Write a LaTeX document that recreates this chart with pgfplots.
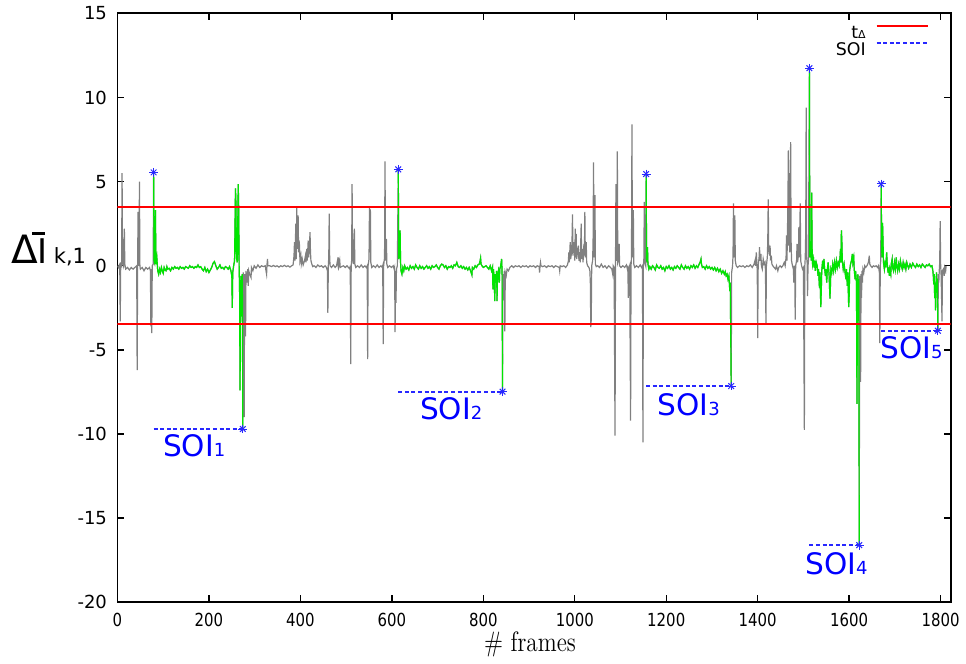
\documentclass[border=0pt]{standalone}
\usepackage{fontspec}
\usepackage{graphicx}
\usepackage{pgfplots}
\usepackage{pgfplotstable}
\pgfplotsset{compat=1.18}
\newfontfamily\dejavu{DejaVu Sans}
\definecolor{sigGray}{RGB}{128,128,128}
\definecolor{sigGreen}{RGB}{0,230,0}
\definecolor{soiBlue}{RGB}{40,40,255}
\newcommand{\xl}[1]{\scalebox{0.83}[1]{#1}}
\newcommand{\legfont}{\dejavu\fontsize{8.7}{8.7}\selectfont}
\pgfplotstableread[row sep=\\]{
f v\\
0 0\\ 2 -0.1\\ 4 0.05\\ 5 -0.1\\ 6 -3.3\\ 7 0.1\\ 9 0\\ 10 5.5\\ 11 0.2\\ 13 0\\ 15 2.2\\ 16 0.1\\ 18 -0.2\\ 22 -0.1\\ 26 -0.25\\ 30 -0.1\\ 34 -0.2\\ 38 -0.1\\
42 0\\ 43 -6.2\\ 44 0.1\\ 45 3.2\\ 46 0.2\\ 47 0\\ 48 5\\ 49 0\\ 50 -0.2\\ 54 -0.1\\ 58 -0.3\\ 62 -0.1\\ 66 -0.2\\ 70 -0.1\\ 72 -0.3\\ 73 -3.6\\ 74 -0.2\\ 75 -4\\ 76 0\\ 78 0.1\\
79 5.55\\ 80 0.3\\ 81 0.2\\ 83 3.3\\ 84 0.1\\ 86 0.5\\ 88 -0.3\\ 90 -0.5\\ 92 -0.2\\ 94 -0.4\\ 96 -0.1\\ 98 -0.3\\ 100 -0.45\\ 102 -0.1\\ 104 -0.25\\ 106 -0.3\\ 108 -0.05\\ 110 -0.2\\
113 -0.15\\ 116 -0.3\\ 119 -0.1\\ 122 -0.2\\ 125 -0.05\\ 128 -0.15\\ 131 -0.1\\ 134 -0.2\\ 137 -0.05\\ 140 -0.15\\ 143 -0.1\\ 146 -0.2\\ 149 -0.05\\ 152 -0.1\\ 155 -0.15\\ 158 0\\
161 -0.1\\ 164 -0.05\\ 167 -0.15\\ 170 -0.05\\ 173 -0.1\\ 176 0.05\\ 179 -0.1\\ 182 -0.05\\ 185 -0.2\\ 188 -0.3\\ 191 -0.1\\ 194 -0.35\\ 197 -0.2\\ 200 -0.4\\ 203 -0.25\\ 206 -0.1\\
209 0.15\\ 212 0.25\\ 215 0\\ 218 -0.2\\ 221 -0.1\\ 224 0.05\\ 227 -0.15\\ 230 -0.1\\ 233 -0.2\\ 236 -0.05\\ 239 -0.1\\ 242 -0.2\\ 245 -0.05\\ 248 -0.3\\ 250 -0.6\\ 251 -2.5\\ 252 -0.4\\
254 0\\ 256 0.3\\ 258 4.6\\ 259 3.8\\ 260 0.5\\ 262 0.2\\ 264 4.85\\ 265 3.5\\ 266 0\\ 267 -1.5\\ 268 -7.4\\ 269 -2\\ 270 -0.6\\ 272 -3\\ 273 -0.5\\ 274 -9.7\\
275 -0.4\\ 276 -1\\ 277 -9\\ 278 -0.5\\ 279 -1.5\\ 280 -4.2\\ 281 -0.3\\ 283 -1\\ 285 -0.2\\ 286 -1.2\\ 287 -0.3\\ 289 -0.5\\ 292 -0.7\\ 293 -0.1\\ 296 -0.3\\ 299 0\\ 303 -0.15\\ 307 0.05\\
311 -0.1\\ 315 0\\ 319 -0.05\\ 323 0\\ 326 -0.5\\ 327 0.1\\ 328 0.4\\ 329 0\\ 333 0\\ 337 -0.05\\ 341 0.02\\ 345 -0.05\\ 349 0\\ 353 -0.08\\ 357 0\\ 361 -0.05\\ 365 0.03\\ 369 -0.05\\
373 0\\ 377 -0.08\\ 381 0\\ 384 0.05\\ 386 0.6\\ 387 1.4\\ 388 0.3\\ 390 2.5\\ 391 0.4\\ 392 3.55\\ 393 1\\ 394 2\\ 395 3\\ 396 0.8\\ 397 1.5\\ 398 1.2\\ 399 0.3\\ 401 0.6\\ 402 0.1\\
404 0.4\\ 406 0.05\\ 409 0.3\\ 411 0.6\\ 412 0.2\\ 414 1\\ 415 0.3\\ 417 1.5\\ 418 0.5\\ 420 1.3\\ 421 2\\ 422 0.8\\ 423 0.3\\ 425 0.1\\ 427 -0.05\\ 430 0\\ 434 -0.1\\ 438 0.05\\
442 -0.05\\ 446 0\\ 450 -0.1\\ 454 0\\ 457 -0.1\\ 459 -0.3\\ 460 -2.8\\ 461 0\\ 462 0.5\\ 463 3.1\\ 464 0.4\\ 465 0\\ 468 -0.1\\ 472 0.05\\ 476 -0.1\\ 479 0\\ 481 0.3\\ 482 0.1\\
483 0.5\\ 484 0\\ 486 0.3\\ 487 -0.1\\ 490 -0.05\\ 494 0\\ 498 -0.1\\ 502 0\\ 505 -0.1\\ 508 -0.2\\ 509 0\\ 510 -5.85\\ 511 0\\ 512 0.3\\ 513 4.85\\ 514 0.5\\ 516 0.1\\ 518 2.2\\
519 0.1\\ 521 -0.1\\ 525 0\\ 529 -0.1\\ 533 0.05\\ 537 -0.1\\ 541 0\\ 544 -0.1\\ 546 0\\ 547 -5.55\\ 548 0\\ 550 0.4\\ 551 3.45\\ 552 0.8\\ 553 3.35\\ 554 0.2\\ 556 -0.1\\ 560 0\\
564 -0.1\\ 568 0.05\\ 572 -0.1\\ 576 0\\ 579 -0.1\\ 580 0\\ 581 -4.65\\ 582 0\\ 584 0.5\\ 585 6.2\\ 586 0.3\\ 588 1.6\\ 589 0.1\\ 591 -0.1\\ 595 0\\ 599 -0.1\\ 603 0\\ 605 -0.2\\
606 -0.1\\ 607 -3.95\\ 608 -0.3\\ 609 -2.2\\ 610 -0.2\\ 612 0\\
614 5.73\\ 615 0.4\\ 616 0.6\\ 617 1\\ 618 2.1\\ 619 0.2\\ 620 -0.3\\ 622 -0.5\\ 624 -0.1\\ 626 -0.3\\ 628 0\\ 631 -0.2\\ 634 -0.1\\ 637 -0.25\\ 640 0\\ 643 -0.15\\ 646 -0.05\\
649 -0.2\\ 652 0.05\\ 655 -0.1\\ 658 -0.2\\ 661 0\\ 664 -0.15\\ 667 -0.05\\ 670 -0.2\\ 673 -0.1\\ 676 0\\ 679 -0.15\\ 682 -0.05\\ 685 -0.2\\ 688 0\\ 691 -0.1\\ 694 -0.05\\ 697 0.05\\
700 -0.1\\ 703 -0.2\\ 706 0\\ 709 0.1\\ 712 0.05\\ 715 -0.1\\ 718 0\\ 721 -0.2\\ 724 -0.05\\ 727 -0.1\\ 730 0\\ 733 -0.15\\ 736 0.05\\ 739 0\\ 742 0.2\\ 745 -0.05\\ 748 -0.1\\
751 0\\ 754 -0.15\\ 757 -0.05\\ 760 -0.2\\ 763 -0.1\\ 766 -0.25\\ 769 -0.1\\ 772 -0.3\\ 775 -0.55\\ 776 -0.1\\ 779 -0.2\\ 782 0\\ 785 -0.1\\ 788 0.05\\ 791 0.1\\ 793 0.3\\ 794 0.45\\
795 0.1\\ 797 0\\ 800 -0.1\\ 803 -0.05\\ 806 0\\ 809 -0.1\\ 812 -0.2\\ 815 0\\ 818 -0.3\\ 820 -0.1\\ 821 -1.4\\ 822 -0.2\\ 824 -0.8\\ 825 -2.1\\ 826 -0.5\\ 828 -1\\ 829 -0.3\\
830 -2.1\\ 831 -0.6\\ 833 -0.3\\ 835 -1\\ 836 -0.2\\ 838 0\\ 840 0.4\\ 841 -0.3\\ 842 -7.48\\
843 -0.5\\ 845 -1\\ 846 -0.3\\ 847 -3.9\\ 848 -0.4\\ 850 -0.6\\ 852 -0.2\\ 855 -0.3\\ 858 -0.1\\ 862 0\\ 866 -0.1\\ 870 0\\ 874 -0.05\\ 878 0\\ 882 -0.1\\ 886 0\\ 890 -0.05\\
894 0\\ 898 -0.1\\ 902 0\\ 906 -0.05\\ 910 0\\ 914 -0.1\\ 918 0\\ 922 -0.05\\ 923 -0.4\\ 924 0\\ 925 0.2\\ 926 0\\ 930 -0.05\\ 934 0\\ 938 -0.1\\ 942 0\\ 946 -0.05\\ 950 0\\
954 -0.1\\ 958 0\\ 962 -0.05\\ 966 -0.1\\ 967 -0.3\\ 968 0\\ 972 -0.05\\ 976 0\\ 980 -0.1\\ 984 0.05\\ 986 0.3\\ 987 0.8\\ 988 0.2\\ 990 1.4\\ 991 0.4\\ 993 0.8\\ 994 1.6\\
995 3.05\\ 996 0.6\\ 997 1\\ 999 1.4\\ 1000 0.3\\ 1001 2.2\\ 1002 0.5\\ 1003 1.9\\ 1004 0.4\\ 1006 0.8\\ 1008 1.2\\ 1009 0.3\\ 1011 0.8\\ 1012 0.2\\ 1014 2.5\\ 1015 0.4\\ 1017 1\\
1018 0.2\\ 1020 1.3\\ 1021 0.6\\ 1022 3.2\\ 1023 0.5\\ 1025 1.4\\ 1026 0.2\\ 1028 0\\ 1031 -0.1\\ 1033 -0.3\\ 1034 -1\\ 1035 -3.65\\ 1036 -3.2\\ 1037 0\\ 1039 0.3\\ 1040 1.5\\
1041 6.15\\ 1042 0.5\\ 1043 0.8\\ 1044 4.2\\ 1045 0.1\\ 1047 -0.05\\ 1050 0\\ 1054 -0.1\\ 1058 0.1\\ 1062 -0.1\\ 1066 0\\ 1070 -0.15\\ 1074 0\\ 1078 -0.1\\ 1081 -0.2\\ 1083 -0.5\\
1084 0\\ 1086 -0.1\\ 1088 -10.1\\ 1089 0\\ 1090 4.85\\ 1091 0.3\\ 1092 0.5\\ 1093 6.8\\ 1094 0.2\\ 1096 0.4\\ 1097 1.3\\ 1098 0\\ 1101 -0.1\\ 1105 0\\ 1109 -0.1\\ 1113 0.05\\
1115 -0.2\\ 1116 0\\ 1117 -1.9\\ 1118 -0.2\\ 1120 0\\ 1122 -9.2\\ 1123 0\\ 1124 0.5\\ 1125 8.4\\ 1126 0.5\\ 1128 3.3\\ 1129 0.1\\ 1131 -0.1\\ 1135 0\\ 1139 -0.1\\ 1143 0.05\\
1146 -0.1\\ 1148 0\\ 1149 -10.5\\ 1150 0\\ 1151 0.4\\ 1152 3.8\\ 1153 0.2\\ 1155 0\\
1156 5.45\\ 1157 0.4\\ 1158 0.2\\ 1159 1.1\\ 1160 0.1\\ 1162 -0.2\\ 1164 -0.05\\ 1167 -0.2\\ 1170 0\\ 1173 -0.1\\ 1176 -0.25\\ 1179 0.05\\ 1182 -0.1\\ 1185 -0.15\\ 1188 0\\
1191 -0.2\\ 1194 -0.1\\ 1197 -0.3\\ 1200 -0.05\\ 1203 -0.15\\ 1206 0\\ 1209 -0.2\\ 1212 -0.1\\ 1215 -0.25\\ 1218 -0.05\\ 1221 -0.15\\ 1224 0\\ 1227 -0.1\\ 1230 -0.2\\ 1233 0.05\\
1236 -0.1\\ 1239 -0.2\\ 1242 0\\ 1245 -0.15\\ 1248 -0.05\\ 1251 -0.2\\ 1254 0\\ 1257 -0.1\\ 1260 0.05\\ 1263 -0.15\\ 1266 0\\ 1269 -0.1\\ 1272 0.1\\ 1274 0.2\\ 1276 0.4\\ 1277 0.1\\
1279 -0.1\\ 1282 -0.05\\ 1285 -0.2\\ 1288 0\\ 1291 -0.15\\ 1294 -0.05\\ 1297 -0.2\\ 1300 -0.1\\ 1303 -0.25\\ 1306 -0.1\\ 1309 -0.3\\ 1312 -0.15\\ 1315 -0.35\\ 1318 -0.2\\
1321 -0.45\\ 1324 -0.3\\ 1327 -0.5\\ 1329 -0.35\\ 1331 -0.6\\ 1333 -0.5\\ 1335 -0.8\\ 1337 -0.6\\ 1339 -1.5\\ 1340 -1\\ 1342 -7.15\\
1343 -0.4\\ 1345 0\\ 1346 0.6\\ 1347 3.7\\ 1348 0.5\\ 1349 0.8\\ 1350 3\\ 1351 0.3\\ 1353 0\\ 1356 -0.1\\ 1360 0\\ 1364 -0.05\\ 1368 0\\ 1372 -0.1\\ 1376 0\\ 1380 -0.05\\
1384 0.05\\ 1388 -0.1\\ 1392 0.1\\ 1394 0.3\\ 1395 0\\ 1397 0.8\\ 1398 0.2\\ 1399 -0.3\\ 1400 -4.3\\ 1401 0\\ 1403 0.5\\ 1404 1.1\\ 1405 0.3\\ 1407 0.7\\ 1408 0\\ 1410 -0.2\\
1412 0.4\\ 1414 0.1\\ 1416 0.2\\ 1417 -0.3\\ 1418 -3.5\\ 1419 0\\ 1421 0.5\\ 1422 1.5\\ 1423 3.95\\ 1424 1\\ 1426 0.6\\ 1427 1.2\\ 1428 0.4\\ 1430 0.5\\ 1431 0.1\\ 1433 0\\
1436 -0.1\\ 1439 -0.2\\ 1441 0\\ 1444 -0.3\\ 1446 -0.1\\ 1449 0\\ 1452 -0.1\\ 1455 0\\ 1458 0.2\\ 1460 0\\ 1462 0.5\\ 1463 1.8\\ 1464 0.3\\ 1466 3.6\\ 1467 6.85\\ 1468 1.2\\
1469 5.5\\ 1470 0.8\\ 1472 7.35\\ 1473 1.5\\ 1474 0.3\\ 1476 0\\ 1478 -0.2\\ 1479 -1\\ 1480 0\\ 1481 -0.3\\ 1482 -3.2\\ 1483 0\\ 1485 0.3\\ 1486 1.3\\ 1487 0.2\\ 1489 0.6\\
1490 2.3\\ 1491 0.5\\ 1493 3.7\\ 1494 0.3\\ 1496 0\\ 1498 -0.2\\ 1500 -0.1\\ 1502 -9.75\\ 1503 0\\ 1504 0.5\\ 1505 2\\ 1506 9.4\\ 1507 0.5\\ 1508 0.2\\ 1509 -1.8\\ 1510 0\\ 1511 0.3\\
1513 11.74\\ 1514 0.5\\ 1516 1.2\\ 1517 0.3\\ 1518 4.35\\ 1519 1\\ 1520 0.1\\ 1522 0.4\\ 1523 -0.1\\ 1525 0.3\\ 1526 -0.3\\ 1528 0.2\\ 1530 0\\ 1532 -0.6\\ 1533 -0.2\\ 1535 -1.3\\
1536 -0.4\\ 1538 -2.45\\ 1539 -1.5\\ 1540 -0.3\\ 1542 0.3\\ 1543 -0.2\\ 1545 0.4\\ 1546 -0.1\\ 1548 -0.6\\ 1549 -0.2\\ 1551 -1\\ 1552 -0.3\\ 1554 0.2\\ 1556 -0.5\\ 1558 -1.95\\
1559 -1.2\\ 1560 -0.2\\ 1562 -0.4\\ 1564 0.1\\ 1566 -0.3\\ 1568 0.2\\ 1570 -0.2\\ 1572 0.3\\ 1574 -0.1\\ 1576 0.2\\ 1578 0\\ 1580 0.5\\ 1581 1\\ 1582 0.2\\ 1583 2.1\\ 1584 1.5\\
1585 0.3\\ 1587 -0.2\\ 1589 0.1\\ 1591 -0.4\\ 1593 -0.8\\ 1594 -0.2\\ 1596 -1.2\\ 1597 -0.4\\ 1599 -2.45\\ 1600 -1.8\\ 1601 -0.3\\ 1603 0.1\\ 1605 0.3\\ 1607 0.7\\ 1608 0.2\\
1610 0.5\\ 1611 -0.2\\ 1613 -0.8\\ 1614 -0.3\\ 1616 -1\\ 1617 -8.2\\ 1618 -3\\ 1619 -0.5\\ 1620 -1.2\\ 1621 -0.8\\ 1622 -16.6\\
1623 -0.6\\ 1624 -2\\ 1625 -6.9\\ 1626 -0.5\\ 1627 -1.9\\ 1628 -0.3\\ 1629 -1\\ 1630 -0.2\\ 1632 -0.4\\ 1634 0\\ 1636 -0.1\\ 1639 0\\ 1642 0.2\\ 1644 0.6\\ 1645 0.1\\ 1647 0\\
1650 -0.1\\ 1653 0\\ 1656 -0.05\\ 1659 0\\ 1662 -0.1\\ 1664 0\\ 1665 -0.2\\ 1666 -0.4\\ 1667 -4.6\\ 1668 0\\ 1669 0.3\\
1670 4.86\\ 1671 1\\ 1672 0.5\\ 1673 2.55\\ 1674 1.5\\ 1675 0.2\\ 1677 -0.2\\ 1679 0.3\\ 1680 -0.1\\ 1682 0.8\\ 1683 0.2\\ 1685 -0.4\\ 1686 -0.1\\ 1688 -0.6\\ 1689 -0.2\\
1691 -0.5\\ 1692 0.1\\ 1694 0.4\\ 1695 -0.1\\ 1697 -0.3\\ 1699 0.2\\ 1701 -0.2\\ 1703 0.5\\ 1704 0\\ 1706 -0.3\\ 1708 0.1\\ 1710 -0.2\\ 1712 0.3\\ 1714 0\\ 1716 -0.2\\ 1718 0.2\\
1720 -0.1\\ 1722 0.1\\ 1724 -0.2\\ 1726 0.2\\ 1728 0\\ 1730 -0.15\\ 1733 0.1\\ 1736 -0.1\\ 1739 0.15\\ 1742 0\\ 1745 -0.1\\ 1748 0.1\\ 1751 -0.05\\ 1754 0.05\\ 1757 -0.1\\
1760 0.1\\ 1763 0\\ 1766 -0.1\\ 1769 0.05\\ 1772 0\\ 1775 0.1\\ 1778 -0.05\\ 1781 0\\ 1783 -0.3\\ 1784 -0.6\\ 1785 -1.1\\ 1786 -0.5\\ 1787 -1.9\\ 1788 -1.4\\ 1789 -2.65\\
1790 -1\\ 1791 -0.4\\ 1792 -1.6\\ 1793 -0.8\\ 1794 -3.86\\
1795 -0.5\\ 1796 -1\\ 1797 -0.3\\ 1798 0.2\\ 1799 2.65\\ 1800 0.1\\ 1801 -0.5\\ 1802 -1.8\\ 1803 -3.3\\ 1804 -0.3\\ 1806 -0.2\\ 1808 -0.6\\ 1809 -0.1\\ 1811 -0.3\\ 1812 0\\
}\sig
\begin{document}
\begin{tikzpicture}
\begin{scope}[x=0.5pt,y=-0.5pt,shift={(-58.75pt,300pt)}]
\useasboundingbox (0,0) rectangle (966,661);
\end{scope}
\begin{axis}[name=ax, at={(0pt,0pt)}, anchor=south west,
  scale only axis, width=416.6pt, height=294.5pt,
  xmin=0, xmax=1822, ymin=-20, ymax=15,
  xtick={0,200,400,600,800,1000,1200,1400,1600,1800},
  xticklabels={{\xl{0}},{\xl{200}},{\xl{400}},{\xl{600}},{\xl{800}},{\xl{1000}},{\xl{1200}},{\xl{1400}},{\xl{1600}},{\xl{1800}}},
  ytick={-20,-15,-10,-5,0,5,10,15},
  yticklabels={-20,-15,-10,-5,0,5,10,15},
  tick align=inside, major tick length=3.5pt,
  ticklabel style={font=\dejavu\fontsize{9}{9}\selectfont},
  xticklabel style={inner sep=1pt, yshift=-4pt},
  yticklabel style={xshift=-1.75pt},
  axis line style={line width=0.9pt},
  major tick style={line width=0.7pt, black},
  legend style={at={(rel axis cs:1,1)}, anchor=north east, xshift=-10.8pt, yshift=-5.5pt,
    draw=none, fill=none, font=\legfont,
    inner sep=0pt, row sep=1.6pt, column sep=5pt,
    nodes={inner sep=0pt, text height=6.4pt, text depth=0pt}},
  legend plot pos=right, legend cell align=right,
  legend image code/.code={\path[draw=none, fill=none] (0pt,0pt) -- (25.5pt,0pt); \draw[#1] (0pt,3.3pt) -- (25.5pt,3.3pt);},
]
\addplot[sigGray, line width=0.6pt, forget plot] table[x=f,y=v] {\sig};
\addplot[sigGreen, line width=0.6pt, forget plot, restrict x to domain=79:274] table[x=f,y=v] {\sig};
\addplot[sigGreen, line width=0.6pt, forget plot, restrict x to domain=614:842] table[x=f,y=v] {\sig};
\addplot[sigGreen, line width=0.6pt, forget plot, restrict x to domain=1156:1342] table[x=f,y=v] {\sig};
\addplot[sigGreen, line width=0.6pt, forget plot, restrict x to domain=1513:1622] table[x=f,y=v] {\sig};
\addplot[sigGreen, line width=0.6pt, forget plot, restrict x to domain=1670:1794] table[x=f,y=v] {\sig};
\addplot[red, line width=0.9pt] coordinates {(0,3.48) (1822,3.48)};
\addlegendentry{\legfont t{\fontsize{5.5}{5.5}\selectfont Δ}}
\addplot[red, line width=0.9pt, forget plot] coordinates {(0,-3.48) (1822,-3.48)};
\addplot[soiBlue, line width=1pt, dash pattern=on 2pt off 1.3pt] coordinates {(79,-9.7) (274,-9.7)};
\addlegendentry{\legfont SOI}
\addplot[soiBlue, line width=1pt, dash pattern=on 2pt off 1.3pt, forget plot] coordinates {(614,-7.48) (842,-7.48)};
\addplot[soiBlue, line width=1pt, dash pattern=on 2pt off 1.3pt, forget plot] coordinates {(1156,-7.15) (1342,-7.15)};
\addplot[soiBlue, line width=1pt, dash pattern=on 2pt off 1.3pt, forget plot] coordinates {(1513,-16.6) (1622,-16.6)};
\addplot[soiBlue, line width=1pt, dash pattern=on 2pt off 1.3pt, forget plot] coordinates {(1670,-3.86) (1794,-3.86)};
\addplot[only marks, soiBlue, mark=+, mark size=2.2pt, mark options={line width=0.5pt}, forget plot] coordinates {
(79,5.55) (274,-9.7) (614,5.73) (842,-7.48) (1156,5.45) (1342,-7.15) (1513,11.74) (1622,-16.6) (1670,4.86) (1794,-3.86)};
\addplot[only marks, soiBlue, mark=x, mark size=2.0pt, mark options={line width=0.5pt}, forget plot] coordinates {
(79,5.55) (274,-9.7) (614,5.73) (842,-7.48) (1156,5.45) (1342,-7.15) (1513,11.74) (1622,-16.6) (1670,4.86) (1794,-3.86)};
\node[anchor=base west, inner sep=0pt, text=blue, font=\dejavu\fontsize{14.8}{14.8}\selectfont] at (axis cs:99,-11.35) {SOI{\fontsize{9}{9}\selectfont 1}};
\node[anchor=base west, inner sep=0pt, text=blue, font=\dejavu\fontsize{14.8}{14.8}\selectfont] at (axis cs:661,-9.11) {SOI{\fontsize{9}{9}\selectfont 2}};
\node[anchor=base west, inner sep=0pt, text=blue, font=\dejavu\fontsize{14.8}{14.8}\selectfont] at (axis cs:1180,-8.9) {SOI{\fontsize{9}{9}\selectfont 3}};
\node[anchor=base west, inner sep=0pt, text=blue, font=\dejavu\fontsize{14.8}{14.8}\selectfont] at (axis cs:1503,-18.34) {SOI{\fontsize{9}{9}\selectfont 4}};
\node[anchor=base west, inner sep=0pt, text=blue, font=\dejavu\fontsize{14.8}{14.8}\selectfont] at (axis cs:1667,-5.54) {SOI{\fontsize{9}{9}\selectfont 5}};
\end{axis}
\begin{scope}[x=0.5pt,y=-0.5pt,shift={(-58.75pt,300pt)}]
\node[anchor=base west, inner sep=0pt, font=\dejavu\fontsize{19.5}{19.5}\selectfont] at (11,261.4) {Δ};
\node[anchor=south west, inner sep=0pt] at (31.7,233) {\rule{6.7pt}{1.6pt}};
\node[anchor=base west, inner sep=0pt, font=\dejavu\fontsize{17}{17}\selectfont] at (37.5,261.4) {I};
\node[anchor=base west, inner sep=0pt, font=\dejavu\fontsize{10.5}{10.5}\selectfont] at (53.5,261.4) {k,1};
\node[anchor=base, inner sep=0pt, font=\fontsize{14}{14}\selectfont] at (530,649) {\scalebox{0.83}[1]{\# frames}};
\end{scope}
\end{tikzpicture}
\end{document}
